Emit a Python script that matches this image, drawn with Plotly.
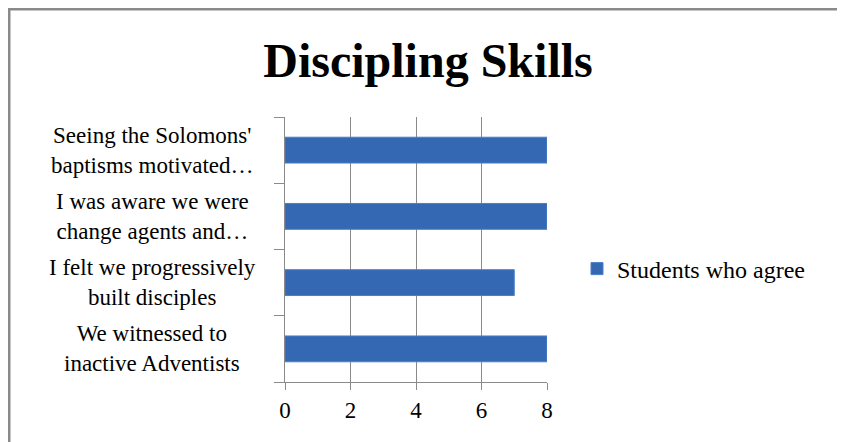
import plotly.graph_objects as go

categories = [
    "We witnessed to<br>inactive Adventists",
    "I felt we progressively<br>built disciples",
    "I was aware we were<br>change agents and…",
    "Seeing the Solomons'<br>baptisms motivated…",
]
values = [8, 7, 8, 8]
series_name = "Students who agree"
x_ticks = [0, 2, 4, 6, 8]
title_text = "Discipling Skills"

FONT = "Liberation Serif, Times New Roman, serif"
OFF = 8  # page body margin
W, H = 845 - OFF, 442 - OFF
L, R, T, B = 285 - OFF, 298, 117 - OFF, 60
pw, ph = W - L - R, H - T - B

fig = go.Figure()
fig.add_trace(go.Bar(
    y=categories, x=values, orientation="h", name=series_name,
    marker=dict(color="#3468B2", line=dict(color="#4A7FC8", width=1)),
    showlegend=True,
))

annotations = []
for c in categories:
    annotations.append(dict(
        x=(152 - OFF - L) / pw, xref="paper", y=c, yref="y",
        text=c, showarrow=False, xanchor="center", yanchor="middle",
        align="center", font=dict(family=FONT, size=23, color="#000"),
    ))

fig.update_layout(
    width=W, height=H,
    margin=dict(l=L, r=R, t=T, b=B),
    paper_bgcolor="white", plot_bgcolor="white",
    title=dict(text="<b>%s</b>" % title_text, x=(428 - OFF) / W, xanchor="center",
               y=1 - (60 - OFF) / H, yanchor="middle", yref="container",
               font=dict(family=FONT, size=48, color="#000")),
    bargap=0.61,
    xaxis=dict(range=[0, 8], tickvals=x_ticks, showgrid=True, gridcolor="#8a8a8a",
               gridwidth=1, showline=True, linecolor="#8a8a8a", linewidth=1,
               ticks="outside", ticklen=7, tickcolor="#8a8a8a", zeroline=False,
               tickfont=dict(family=FONT, size=23, color="#000")),
    yaxis=dict(type="category", categoryorder="array", categoryarray=categories,
               showgrid=False, showline=True, linecolor="#8a8a8a", linewidth=1,
               ticks="outside", ticklen=10, tickcolor="#8a8a8a", tickson="boundaries",
               showticklabels=False),
    legend=dict(x=(577 - OFF - L) / pw, xanchor="left", y=1 - (269 - 117) / ph,
                yanchor="middle",
                font=dict(family=FONT, size=24, color="#000"), bgcolor="rgba(0,0,0,0)",
                itemwidth=30),
    annotations=annotations,
    shapes=[dict(type="rect", xref="paper", yref="paper",
                 x0=(1 - L) / pw, x1=(W + 20 - L) / pw,
                 y0=-(B + 20) / ph, y1=1 + (T - 1) / ph,
                 line=dict(color="#8a8a8a", width=3), fillcolor="rgba(0,0,0,0)")],
)

fig.write_html("out.html")
